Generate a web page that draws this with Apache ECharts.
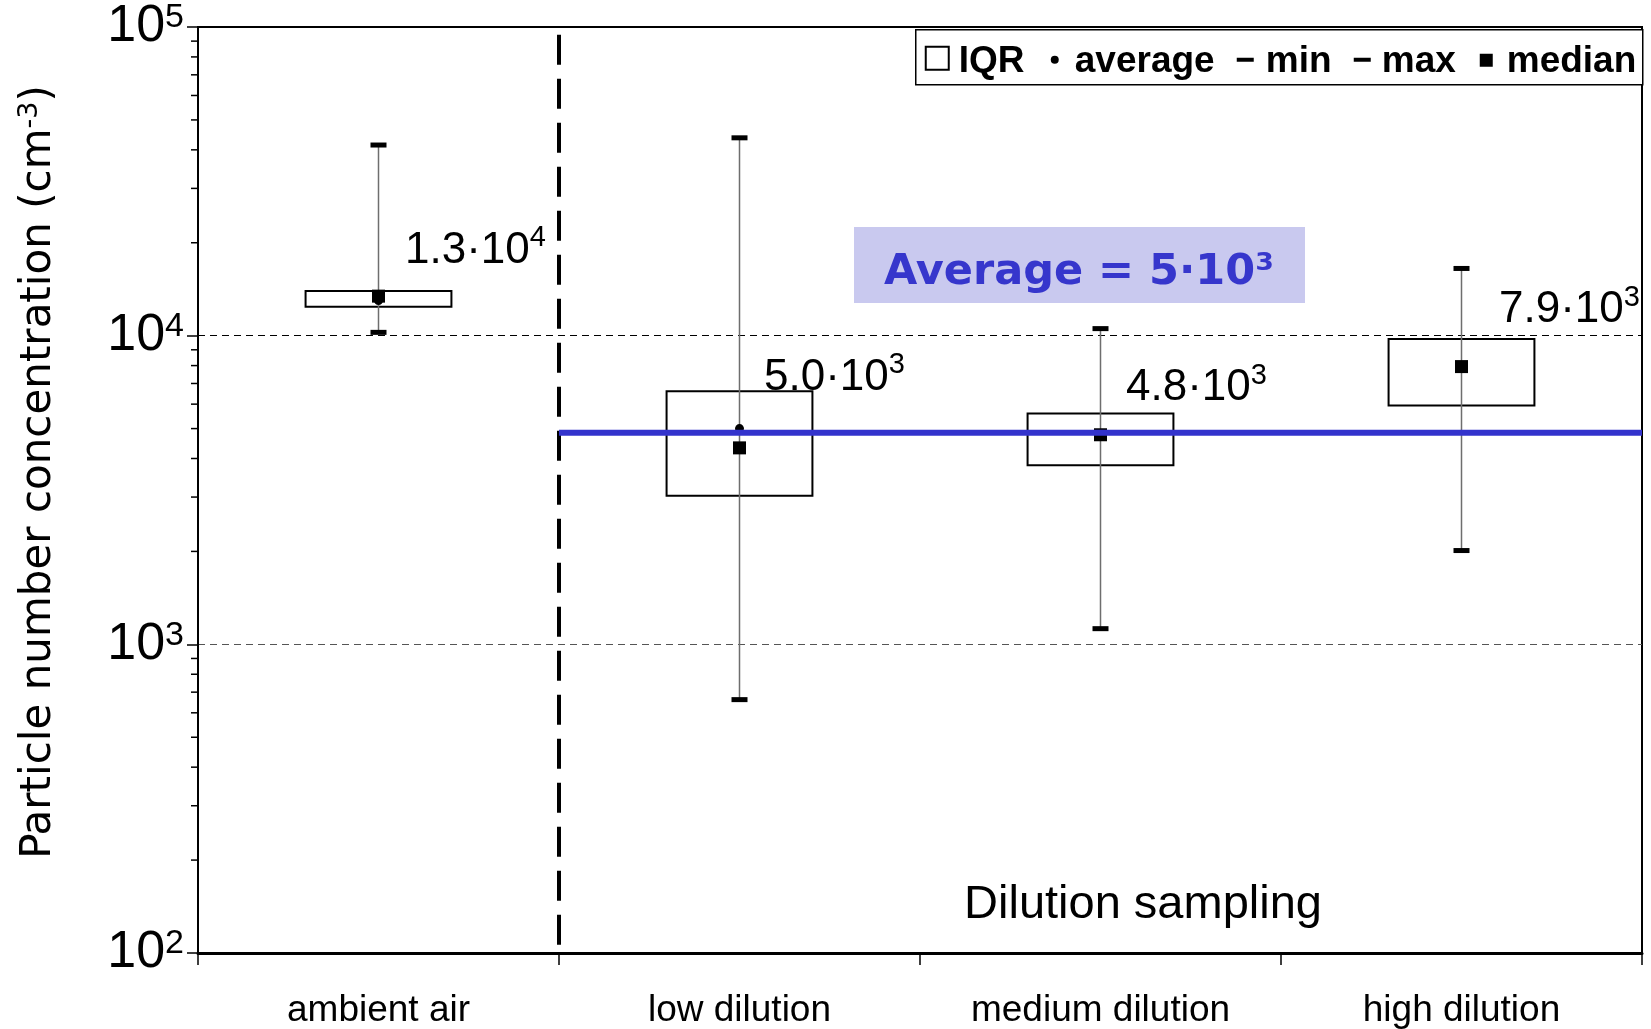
<!DOCTYPE html>
<html>
<head>
<meta charset="utf-8">
<script src="https://cdn.jsdelivr.net/npm/echarts@6/dist/echarts.min.js"></script>
<style>
  html, body { margin: 0; padding: 0; background: #fff; }
  #chart { width: 1651px; height: 1029px; }
</style>
</head>
<body>
<div id="chart"></div>
<script>
// Particle number concentration per sampling condition (cm^-3)
const categories = ['ambient air', 'low dilution', 'medium dilution', 'high dilution'];
const minValues     = [10250, 662, 1124, 2013];
const q1Values      = [12410, 3030, 3800, 5940];
const medianValues  = [13430, 4330, 4775, 7940];
const q3Values      = [13950, 6610, 5600, 9750];
const maxValues     = [41460, 43750, 10540, 16510];
const averageValues = [13000, 5000, 4800, 7900];
// mean over the dilution-sampling runs
const dilutionAverage = 4850;
const dilutionAverageText = 'Average = 5·10³';
// log-axis decades and the minor tick marks between them
const yTickValues = [100, 1000, 10000, 100000];
const minorTickValues = [200, 300, 400, 500, 600, 700, 800, 900,
                         2000, 3000, 4000, 5000, 6000, 7000, 8000, 9000,
                         20000, 30000, 40000, 50000, 60000, 70000, 80000, 90000];
const legendWords = ['IQR', 'average', 'min', 'max', 'median'];
const regionTitle = 'Dilution sampling';
const yAxisTitle = 'Particle number concentration (cm';
const yAxisTitleSup = '-3';

const SANS = '"Liberation Sans", Arial, sans-serif';
const VERD = '"DejaVu Sans", sans-serif';

// label placement (px) relative to each average marker
const labelShift = [[97, -55], [95, -56], [96, -51], [108, -62]];

function sciParts(v) {
  const e = Math.floor(Math.log10(v) + 1e-9);
  return [(v / Math.pow(10, e)).toFixed(1), e];
}

const chart = echarts.init(document.getElementById('chart'), null, { renderer: 'canvas' });

const GRID = { left: 198, top: 27, right: 9, bottom: 74 };

const option = {
  animation: false,
  backgroundColor: '#fff',
  grid: { left: GRID.left, top: GRID.top, right: GRID.right, bottom: GRID.bottom,
          show: true, borderColor: '#000', borderWidth: 2, backgroundColor: 'transparent' },
  xAxis: [
    {
      type: 'category',
      data: categories,
      boundaryGap: true,
      axisLine: { lineStyle: { color: '#000', width: 3 } },
      axisTick: { show: true, interval: 0, length: 12, lineStyle: { color: '#000', width: 1.5 } },
      axisLabel: { interval: 0, margin: 39, color: '#000', fontSize: 37, fontFamily: SANS },
      splitLine: { show: false }
    },
    { type: 'value', min: -0.5, max: 3.5, show: false }
  ],
  yAxis: {
    type: 'log',
    logBase: 10,
    min: 100,
    max: 100000,
    axisLine: { show: true, onZero: false, lineStyle: { color: '#000', width: 2 } },
    axisTick: { show: true, length: 11, lineStyle: { color: '#000', width: 1.5 } },
    axisLabel: {
      margin: 14,
      color: '#000',
      formatter: function (v) {
        return '{b|10}{s|' + Math.round(Math.log10(v)) + '}';
      },
      rich: {
        b: { fontSize: 52, fontFamily: SANS, color: '#000', lineHeight: 52 },
        s: { fontSize: 34, fontFamily: SANS, color: '#000', verticalAlign: 'top', lineHeight: 34 }
      }
    },
    splitLine: {
      show: true,
      lineStyle: { color: ['#000', '#555', '#000', '#000'], width: 1, type: [7, 5] }
    },
    name: '{t|' + yAxisTitle + '}{s|' + yAxisTitleSup + '}{t|)}',
    nameLocation: 'middle',
    nameRotate: 90,
    nameGap: 136,
    nameTextStyle: {
      padding: [0, 0, 0, 36],
      rich: {
        t: { fontSize: 42, fontFamily: VERD, color: '#000', lineHeight: 46 },
        s: { fontSize: 27, fontFamily: VERD, color: '#000', verticalAlign: 'top', lineHeight: 29 }
      }
    }
  },
  series: [
    {
      // minor ticks on the log axis
      type: 'custom',
      name: 'minorTicks',
      silent: true,
      clip: false,
      data: minorTickValues.map(v => [0, v]),
      renderItem: function (params, api) {
        const y = api.coord([0, api.value(1)])[1];
        const x0 = params.coordSys.x;
        return { type: 'line', shape: { x1: x0 - 7, y1: y, x2: x0, y2: y },
                 style: { stroke: '#000', lineWidth: 1.5 } };
      },
      z: 1
    },
    {
      // interquartile boxes
      type: 'custom',
      name: 'IQR',
      data: categories.map((c, i) => [i, q1Values[i], q3Values[i]]),
      renderItem: function (params, api) {
        const i = api.value(0);
        const lo = api.coord([i, api.value(1)]);
        const hi = api.coord([i, api.value(2)]);
        const w = api.size([1, api.value(1)])[0] * 0.404;
        return { type: 'rect',
                 shape: { x: lo[0] - w / 2, y: hi[1], width: w, height: lo[1] - hi[1] },
                 style: { fill: 'none', stroke: '#000', lineWidth: 2 } };
      },
      z: 2
    },
    {
      // whiskers from min to max
      type: 'custom',
      name: 'range',
      data: categories.map((c, i) => [i, minValues[i], maxValues[i]]),
      renderItem: function (params, api) {
        const i = api.value(0);
        const lo = api.coord([i, api.value(1)]);
        const hi = api.coord([i, api.value(2)]);
        return { type: 'line', shape: { x1: lo[0], y1: lo[1], x2: hi[0], y2: hi[1] },
                 style: { stroke: '#6e6e6e', lineWidth: 1.5 } };
      },
      z: 3
    },
    {
      type: 'scatter', name: 'min',
      data: minValues.map((v, i) => [i, v]),
      symbol: 'rect', symbolSize: [16, 5],
      itemStyle: { color: '#000', opacity: 1 }, z: 4
    },
    {
      type: 'scatter', name: 'max',
      data: maxValues.map((v, i) => [i, v]),
      symbol: 'rect', symbolSize: [16, 5],
      itemStyle: { color: '#000', opacity: 1 }, z: 4
    },
    {
      type: 'scatter', name: 'average',
      data: averageValues.map((v, i) => ({
        value: [i, v],
        label: { offset: labelShift[i] }
      })),
      symbol: 'circle', symbolSize: 9,
      itemStyle: { color: '#000', opacity: 1 },
      label: {
        show: true,
        position: 'inside',
        color: '#000',
        opacity: 1,
        textBorderWidth: 0,
        formatter: function (p) {
          const parts = sciParts(p.value[1]);
          return '{b|' + parts[0] + '·10}{s|' + parts[1] + '}';
        },
        rich: {
          b: { fontSize: 44, fontFamily: SANS, color: '#000', lineHeight: 44, padding: [10, 0, 0, 0] },
          s: { fontSize: 29, fontFamily: SANS, color: '#000', verticalAlign: 'top', lineHeight: 29 }
        }
      },
      z: 4
    },
    {
      type: 'scatter', name: 'median',
      data: medianValues.map((v, i) => [i, v]),
      symbol: 'rect', symbolSize: 13,
      itemStyle: { color: '#000', opacity: 1 }, z: 5
    },
    {
      // separator between ambient and dilution sampling
      type: 'line', name: 'separator',
      xAxisIndex: 1,
      data: [[0.5, 94400], [0.5, 105]],
      symbol: 'none',
      lineStyle: { color: '#000', width: 4, type: [30, 14] },
      z: 6, silent: true
    },
    {
      type: 'line', name: 'dilution average',
      xAxisIndex: 1,
      data: [[0.5, dilutionAverage], [3.5, dilutionAverage]],
      symbol: 'none',
      lineStyle: { color: '#3333cc', width: 6 },
      z: 10, silent: true
    }
  ],
  graphic: [
    // legend
    {
      type: 'group', left: 915, top: 29, z: 20,
      children: [
        { type: 'rect', shape: { x: 0, y: 0, width: 727, height: 55 },
          style: { fill: '#fff', stroke: '#000', lineWidth: 1.5 } },
        { type: 'rect', shape: { x: 10, y: 17, width: 23, height: 23 },
          style: { fill: '#fff', stroke: '#000', lineWidth: 2 } },
        { type: 'text', x: 43, y: 32, style: { text: legendWords[0], font: 'bold 37px ' + SANS, fill: '#000', verticalAlign: 'middle' } },
        { type: 'circle', shape: { cx: 139, cy: 30, r: 4 }, style: { fill: '#000' } },
        { type: 'text', x: 159, y: 32, style: { text: legendWords[1], font: 'bold 37px ' + SANS, fill: '#000', verticalAlign: 'middle' } },
        { type: 'rect', shape: { x: 321, y: 28, width: 17, height: 4 }, style: { fill: '#000' } },
        { type: 'text', x: 350, y: 32, style: { text: legendWords[2], font: 'bold 37px ' + SANS, fill: '#000', verticalAlign: 'middle' } },
        { type: 'rect', shape: { x: 438, y: 28, width: 17, height: 4 }, style: { fill: '#000' } },
        { type: 'text', x: 466, y: 32, style: { text: legendWords[3], font: 'bold 37px ' + SANS, fill: '#000', verticalAlign: 'middle' } },
        { type: 'rect', shape: { x: 564, y: 24, width: 13, height: 13 }, style: { fill: '#000' } },
        { type: 'text', x: 591, y: 32, style: { text: legendWords[4], font: 'bold 37px ' + SANS, fill: '#000', verticalAlign: 'middle' } }
      ]
    },
    // highlighted overall average
    {
      type: 'group', left: 854, top: 227, z: 20,
      children: [
        { type: 'rect', shape: { x: 0, y: 0, width: 451, height: 76 }, style: { fill: '#c9c9ef' } },
        { type: 'text', x: 225, y: 46,
          style: { text: dilutionAverageText, font: 'bold 43px "DejaVu Sans", sans-serif',
                   fill: '#3636cc', align: 'center', verticalAlign: 'middle' } }
      ]
    },
    // region caption
    {
      type: 'text', x: 1143, y: 905, z: 20,
      style: { text: regionTitle, font: '47px ' + SANS, fill: '#000', align: 'center', verticalAlign: 'middle' }
    }
  ]
};

chart.setOption(option);
</script>
</body>
</html>
